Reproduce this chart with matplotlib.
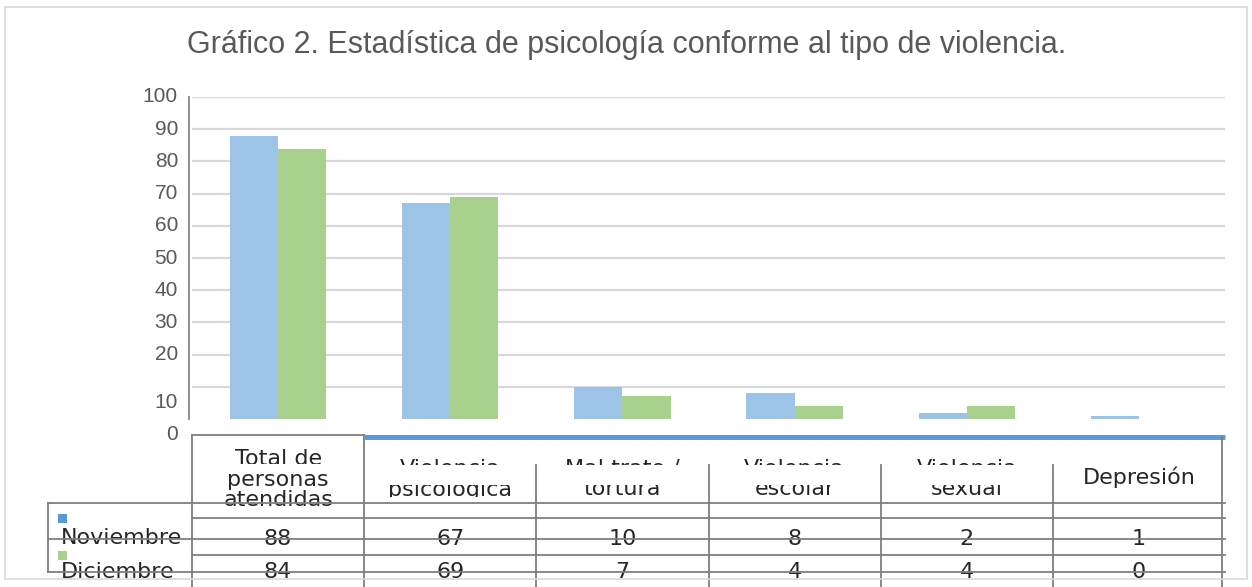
import matplotlib
matplotlib.use("Agg")
import matplotlib.pyplot as plt
import numpy as np
from matplotlib.patches import Rectangle
from matplotlib.transforms import blended_transform_factory, offset_copy

categories = ["Total de\npersonas\natendidas", "Violencia\npsicológica",
              "Mal trato /\ntortura", "Violencia\nescolar", "Violencia\nsexual",
              "Depresión"]
series = ["Noviembre", "Diciembre"]
noviembre = [88, 67, 10, 8, 2, 1]
diciembre = [84, 69, 7, 4, 4, 0]
yticks = [0, 10, 20, 30, 40, 50, 60, 70, 80, 90, 100]
title = "Gráfico 2. Estadística de psicología conforme al tipo de violencia."

bar_colors = ["#9DC3E6", "#A9D18E"]
key_colors = ["#5B9BD5", "#A9D18E"]
GRID = "#D9D9D9"
LINE = "#7F7F7F"
TXT = "#595959"

W, H = 1252, 587
fig = plt.figure(figsize=(W / 100, H / 100), dpi=100)


def fx(p):
    return p / W


def fy(p):
    return 1 - p / H


# outer chart border
fig.patches.append(Rectangle((fx(5), fy(579)), fx(1247) - fx(5), fy(7) - fy(579),
                             transform=fig.transFigure, fill=False,
                             edgecolor=GRID, lw=1.2))

fig.text(fx(627), fy(45), title, ha="center", va="center", fontsize=22,
         color=TXT, family="Liberation Sans")

ax = fig.add_axes([fx(192), fy(419), fx(1225) - fx(192), fy(97) - fy(419)])
x = np.arange(len(categories))
bw = 0.28
ax.bar(x - bw / 2, noviembre, bw, color=bar_colors[0], zorder=2)
ax.bar(x + bw / 2, diciembre, bw, color=bar_colors[1], zorder=2)
ax.set_xlim(-0.5, len(categories) - 0.5)
ax.set_ylim(0, 100)
for v in yticks[1:]:
    ax.axhline(v, color=GRID, lw=1.6, zorder=1)
ax.set_xticks([])
ax.set_yticks([])
for s in ["top", "right", "bottom"]:
    ax.spines[s].set_visible(False)
ax.spines["left"].set_color("#868686")
ax.spines["left"].set_linewidth(1.3)
ax.spines["left"].set_position(("outward", 2))

# y tick labels (the two lowest sit a bit low, as in the original)
ylab = blended_transform_factory(ax.transAxes, ax.transData)
for v in yticks:
    tr = offset_copy(ylab, fig=fig, x=-14, y=-16 if v <= 10 else 0, units="dots")
    ax.text(0, v, str(v), transform=tr, ha="right", va="center",
            fontsize=15, color=TXT, family="Liberation Sans", clip_on=False)

# ---- data table under the plot ----
tt = blended_transform_factory(ax.transData, fig.transFigure)
ft = fig.transFigure
n = len(categories)
tfont = dict(family="DejaVu Sans", fontsize=16, color="#262626", clip_on=False)
lkw = dict(color=LINE, lw=1.3, clip_on=False, zorder=5)


def hline(y, x0, x1, tr=tt, **kw):
    ax.plot([x0, x1], [fy(y), fy(y)], transform=tr, **{**lkw, **kw})


def vline(xv, y0, y1, tr=tt, **kw):
    ax.plot([xv, xv], [fy(y0), fy(y1)], transform=tr, **{**lkw, **kw})


# header texts
for i, cat in enumerate(categories):
    parts = cat.split("\n")
    if i == 0:
        ys = [459, 480, 500]
    elif len(parts) == 1:
        ys = [477]
    else:
        ys = [469, 489]
    for p, yy in zip(parts, ys):
        ax.text(i, fy(yy), p, transform=tt, ha="center", va="center", **tfont)

# white bands that cut the header labels
ax.add_patch(Rectangle((0.5, fy(485)), n - 2, fy(465) - fy(485), transform=tt,
                       facecolor="white", edgecolor="none", zorder=4, clip_on=False))
ax.add_patch(Rectangle((0.5, fy(502)), n - 2, fy(497) - fy(502), transform=tt,
                       facecolor="white", edgecolor="none", zorder=4, clip_on=False))
ax.add_patch(Rectangle((-0.5, fy(471)), 1, fy(464) - fy(471), transform=tt,
                       facecolor="white", edgecolor="none", zorder=4, clip_on=False))

# values
for yy, vals in zip([539, 572], [noviembre, diciembre]):
    for i, v in enumerate(vals):
        ax.text(i, fy(yy), str(v), transform=tt, ha="center", va="center", **tfont)

# legend keys
for yy, key_y, name, col in zip([538, 572], [514, 551], series, key_colors):
    fig.patches.append(Rectangle((fx(58), fy(key_y + 9)), fx(9), 9 / H,
                                 transform=ft, facecolor=col, edgecolor="none"))
    ax.text(fx(61), fy(yy), name, transform=ft, ha="left", va="center", **tfont)

# table grid
hline(435, -0.5, 0.5)
vline(-0.5, 435, 587)
vline(0.5, 435, 587)
hline(437, 0.5, n - 0.5, color="#5B9BD5", lw=3.6, solid_capstyle="butt")
vline(n - 0.52, 437, 587)
for k in range(1, n - 1):
    vline(k + 0.5, 465, 587)
for yy in [503, 539, 572]:
    hline(yy, fx(48), fx(1225), tr=ft)
for yy in [518, 555]:
    hline(yy, -0.5, n - 0.5)
vline(fx(48), 503, 572, tr=ft)

fig.savefig("out.png", dpi=100)
